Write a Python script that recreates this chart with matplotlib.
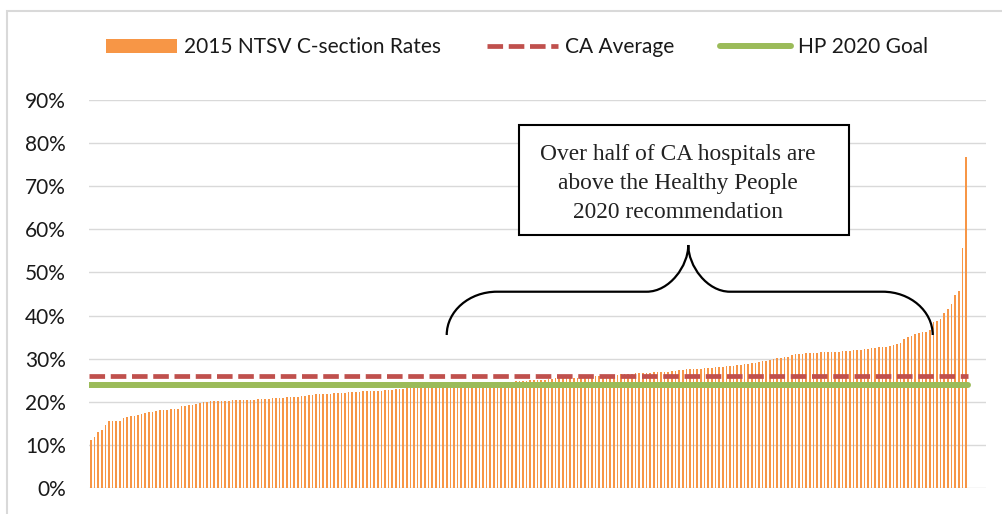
import matplotlib.pyplot as plt
from matplotlib.lines import Line2D
from matplotlib.patches import Patch, Rectangle, PathPatch
from matplotlib.path import Path
from matplotlib.ticker import FuncFormatter

# 2015 NTSV C-section rate per hospital, sorted ascending (%)
rates = [
    11.1, 11.8, 12.9, 13.5, 14.7, 15.5, 15.6, 15.6, 15.6, 16.2, 16.4, 16.6, 16.7, 16.9, 17.2, 17.4,
    17.6, 17.7, 17.8, 18.0, 18.1, 18.2, 18.3, 18.3, 18.3, 19.0, 19.1, 19.2, 19.3, 19.6, 19.8, 20.0,
    20.0, 20.1, 20.1, 20.1, 20.2, 20.2, 20.2, 20.3, 20.3,
    20.3, 20.4, 20.4, 20.5, 20.5, 20.6, 20.6, 20.7, 20.7, 20.8,
    20.8, 20.9, 20.9, 21.0, 21.0, 21.1, 21.2, 21.3, 21.4, 21.5, 21.6, 21.7, 21.8,
    21.8, 21.9, 21.9, 22.0, 22.0, 22.1, 22.1, 22.2, 22.2, 22.3,
    22.3, 22.4, 22.4, 22.5, 22.5, 22.6, 22.6, 22.7, 22.7,
    22.8, 22.9, 23.0, 23.0, 23.1, 23.1, 23.2,
    23.3, 23.3, 23.4, 23.4, 23.5, 23.5, 23.6, 23.6, 23.7, 23.7, 23.8, 23.8, 23.9, 23.9, 24.0, 24.0,
    24.1, 24.1, 24.2, 24.2, 24.3, 24.4,
    24.5, 24.5, 24.6, 24.6, 24.7, 24.8, 24.9, 24.9, 24.9, 25.0, 25.0,
    25.0, 25.1, 25.1, 25.2, 25.3, 25.4, 25.4, 25.5, 25.5, 25.5, 25.6, 25.6,
    25.6, 25.7, 25.7, 25.8, 25.9, 26.0, 26.0, 26.1, 26.2, 26.3, 26.3, 26.4,
    26.4, 26.5, 26.5, 26.6, 26.6, 26.7, 26.7, 26.7, 26.8, 26.8,
    26.9, 27.0, 27.0, 27.1, 27.2, 27.3, 27.4, 27.5, 27.5, 27.6, 27.7,
    27.7, 27.8, 27.9, 27.9, 28.0, 28.1, 28.1, 28.2, 28.3, 28.4, 28.5,
    28.6, 28.7, 28.8, 28.9, 29.0, 29.2, 29.4, 29.5, 29.7, 29.9, 30.1, 30.2,
    30.3, 30.5, 30.9, 31.0, 31.1, 31.1, 31.2, 31.3, 31.3, 31.4, 31.5,
    31.5, 31.5, 31.6, 31.6, 31.6, 31.7, 31.7, 31.8, 31.9, 32.0, 32.1, 32.2,
    32.3, 32.4, 32.5, 32.6, 32.7, 32.8, 33.0, 33.2, 33.4, 33.6,
    34.6, 35.0, 35.2, 35.7, 35.9, 36.1, 36.3, 36.7, 38.4, 38.7, 39.3, 40.5, 41.5, 42.7, 44.7, 45.8,
    55.7, 76.7,
]
ca_average = 26.0
hp_goal = 23.9
yticks = [0, 10, 20, 30, 40, 50, 60, 70, 80, 90]
legend_labels = ["2015 NTSV C-section Rates", "CA Average", "HP 2020 Goal"]
note = "Over half of CA hospitals are\nabove the Healthy People\n2020 recommendation"

ORANGE = "#F79646"
RED = "#C0504D"
GREEN = "#9BBB59"
GRID = "#D9D9D9"
TEXT = "#1a1a1a"

plt.rcParams["font.family"] = ["Lato", "DejaVu Sans"]

fig = plt.figure(figsize=(10.03, 5.14), dpi=100)
ax = fig.add_axes([89 / 1003, 26 / 514, 897 / 1003, 388 / 514])

n = len(rates)
x = list(range(n))
ax.bar(x, rates, width=0.45, color=ORANGE, zorder=2)
ax.plot([-0.5, n - 0.5], [ca_average, ca_average], color=RED, lw=3.4,
        linestyle=(0, (3.3, 1.2)), dash_capstyle="butt", zorder=3)
ax.plot([-0.5, n - 0.5], [hp_goal, hp_goal], color=GREEN, lw=4.3,
        solid_capstyle="round", zorder=3)

ax.set_xlim(-0.5, 246.5)
ax.set_ylim(0, 90)
ax.set_yticks(yticks)
ax.yaxis.set_major_formatter(FuncFormatter(lambda v, p: f"{v:.0f}%"))
ax.set_xticks([])
ax.tick_params(axis="y", length=0, pad=16.5, labelsize=15, labelcolor=TEXT)
ax.grid(axis="y", color=GRID, lw=1.0, zorder=0)
for s in ax.spines.values():
    s.set_visible(False)

# note box + curly brace (axes fraction coordinates)
ax.add_patch(Rectangle((0.4794, 0.6521), 0.3679, 0.2835, transform=ax.transAxes,
                       fill=True, facecolor="white", edgecolor="black", lw=1.5,
                       zorder=5, clip_on=False))
ax.text(0.6566, 0.786, note, transform=ax.transAxes, ha="center", va="center",
        family="Liberation Serif", fontsize=16.8, linespacing=1.5, color="#222222", zorder=6)

verts = [
    (0.3988, 0.3943), (0.3988, 0.4559), (0.4239, 0.5059), (0.4548, 0.5059),
    (0.6217, 0.5059),
    (0.6473, 0.5059), (0.6681, 0.5724), (0.6681, 0.6263),
    (0.6681, 0.5724), (0.6889, 0.5059), (0.7146, 0.5059),
    (0.8848, 0.5059),
    (0.9156, 0.5059), (0.9406, 0.4559), (0.9406, 0.3943),
]
codes = [Path.MOVETO, Path.CURVE4, Path.CURVE4, Path.CURVE4, Path.LINETO,
         Path.CURVE4, Path.CURVE4, Path.CURVE4, Path.CURVE4, Path.CURVE4, Path.CURVE4,
         Path.LINETO, Path.CURVE4, Path.CURVE4, Path.CURVE4]
ax.add_patch(PathPatch(Path(verts, codes), transform=ax.transAxes, fill=False,
                       edgecolor="black", lw=1.6, zorder=5, clip_on=False))

handles = [
    Patch(facecolor=ORANGE, edgecolor="none"),
    Line2D([], [], color=RED, lw=3.4, linestyle=(0, (3.3, 1.2)), dash_capstyle="butt"),
    Line2D([], [], color=GREEN, lw=4.3, solid_capstyle="round"),
]
fig.legend(handles, legend_labels, loc="center", bbox_to_anchor=(517 / 1003, 1 - 47 / 514),
           ncol=3, frameon=False, fontsize=15, handlelength=3.4, handleheight=0.65,
           handletextpad=0.35, columnspacing=2.2, labelcolor=TEXT)

# chart area border (only top/left visible in the crop)
fig.patches.append(Rectangle((7.3 / 1003, -0.1), 1.2, 1.1 - 10.7 / 514, transform=fig.transFigure,
                             fill=False, edgecolor=GRID, lw=1.5))

fig.savefig("out.png", dpi=100)
plt.close(fig)
